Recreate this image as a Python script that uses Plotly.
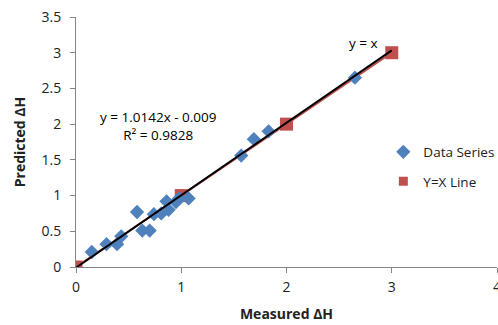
import plotly.graph_objects as go

# Measured vs predicted enthalpy values
measured = [0.15, 0.29, 0.39, 0.43, 0.58, 0.63, 0.70, 0.74, 0.81, 0.86, 0.88, 0.95,
            0.98, 1.07, 1.57, 1.69, 1.83, 2.65]
predicted = [0.21, 0.32, 0.32, 0.43, 0.77, 0.51, 0.51, 0.74, 0.75, 0.92, 0.80, 0.91,
             0.96, 0.96, 1.56, 1.79, 1.90, 2.65]

# Reference identity line
ref_x = [0, 1, 2, 3]
ref_y = [0, 1, 2, 3]

# Linear fit shown on the chart
slope = 1.0142
intercept = -0.009
fit_x = [0, 3]
fit_y = [slope * v + intercept for v in fit_x]

x_ticks = [0, 1, 2, 3, 4]
y_ticks = [0, 0.5, 1, 1.5, 2, 2.5, 3, 3.5]

font_family = "Open Sans, Lato, sans-serif"
blue = "#4F81BD"
red = "#C0504D"
text_color = "#222"

fig = go.Figure()

fig.add_trace(go.Scatter(
    x=ref_x, y=ref_y, mode="lines+markers", name="Y=X Line",
    line=dict(color=red, width=2),
    marker=dict(symbol="square", size=13, color=red),
    showlegend=False,
))
fig.add_trace(go.Scatter(
    x=measured, y=predicted, mode="markers", name="Data Series",
    legendgroup="a",
    marker=dict(symbol="diamond", size=11, color=blue),
))
fig.add_trace(go.Scatter(
    x=fit_x, y=fit_y, mode="lines", showlegend=False,
    line=dict(color="black", width=2),
))
# legend entry for the identity line (marker only)
fig.add_trace(go.Scatter(
    x=[None], y=[None], mode="markers", name="Y=X Line",
    legendgroup="b",
    marker=dict(symbol="square", size=9, color=red),
))

fig.add_annotation(x=0.78, y=1.98, xref="x", yref="y",
                   text="y = 1.0142x - 0.009<br>R² = 0.9828",
                   showarrow=False, align="center",
                   font=dict(family=font_family, size=13.5, color="black"))
fig.add_annotation(x=2.73, y=3.13, xref="x", yref="y", text="y = x",
                   showarrow=False, font=dict(family=font_family, size=13.5, color="black"))

axis_common = dict(
    showgrid=False, zeroline=False, showline=True, linecolor="#868686", linewidth=1,
    ticks="outside", ticklen=5, tickcolor="#868686",
    tickfont=dict(family=font_family, size=14, color=text_color),
    ticklabeloverflow="allow",
    automargin=False,
)

fig.update_xaxes(range=[0, 4], tickvals=x_ticks, ticktext=[str(v) for v in x_ticks],
                 title=dict(text="<b>Measured ΔH</b>",
                            font=dict(family=font_family, size=14, color=text_color),
                            standoff=14),
                 ticklabelstandoff=2,
                 **axis_common)
fig.update_yaxes(range=[0, 3.5], tickvals=y_ticks, ticktext=[f"{v:g}" for v in y_ticks],
                 title=dict(text="<b>Predicted ΔH</b>",
                            font=dict(family=font_family, size=14, color=text_color),
                            standoff=12),
                 ticklabelstandoff=6,
                 **axis_common)

fig.update_layout(
    width=498, height=325,
    margin=dict(l=76, r=1, t=17, b=58, autoexpand=False),
    plot_bgcolor="white", paper_bgcolor="white",
    legend=dict(x=0.73, y=0.40, xanchor="left", yanchor="middle",
                font=dict(family=font_family, size=13.5, color=text_color),
                bgcolor="rgba(0,0,0,0)", tracegroupgap=9),
    showlegend=True,
)

fig.write_html("out.html")
